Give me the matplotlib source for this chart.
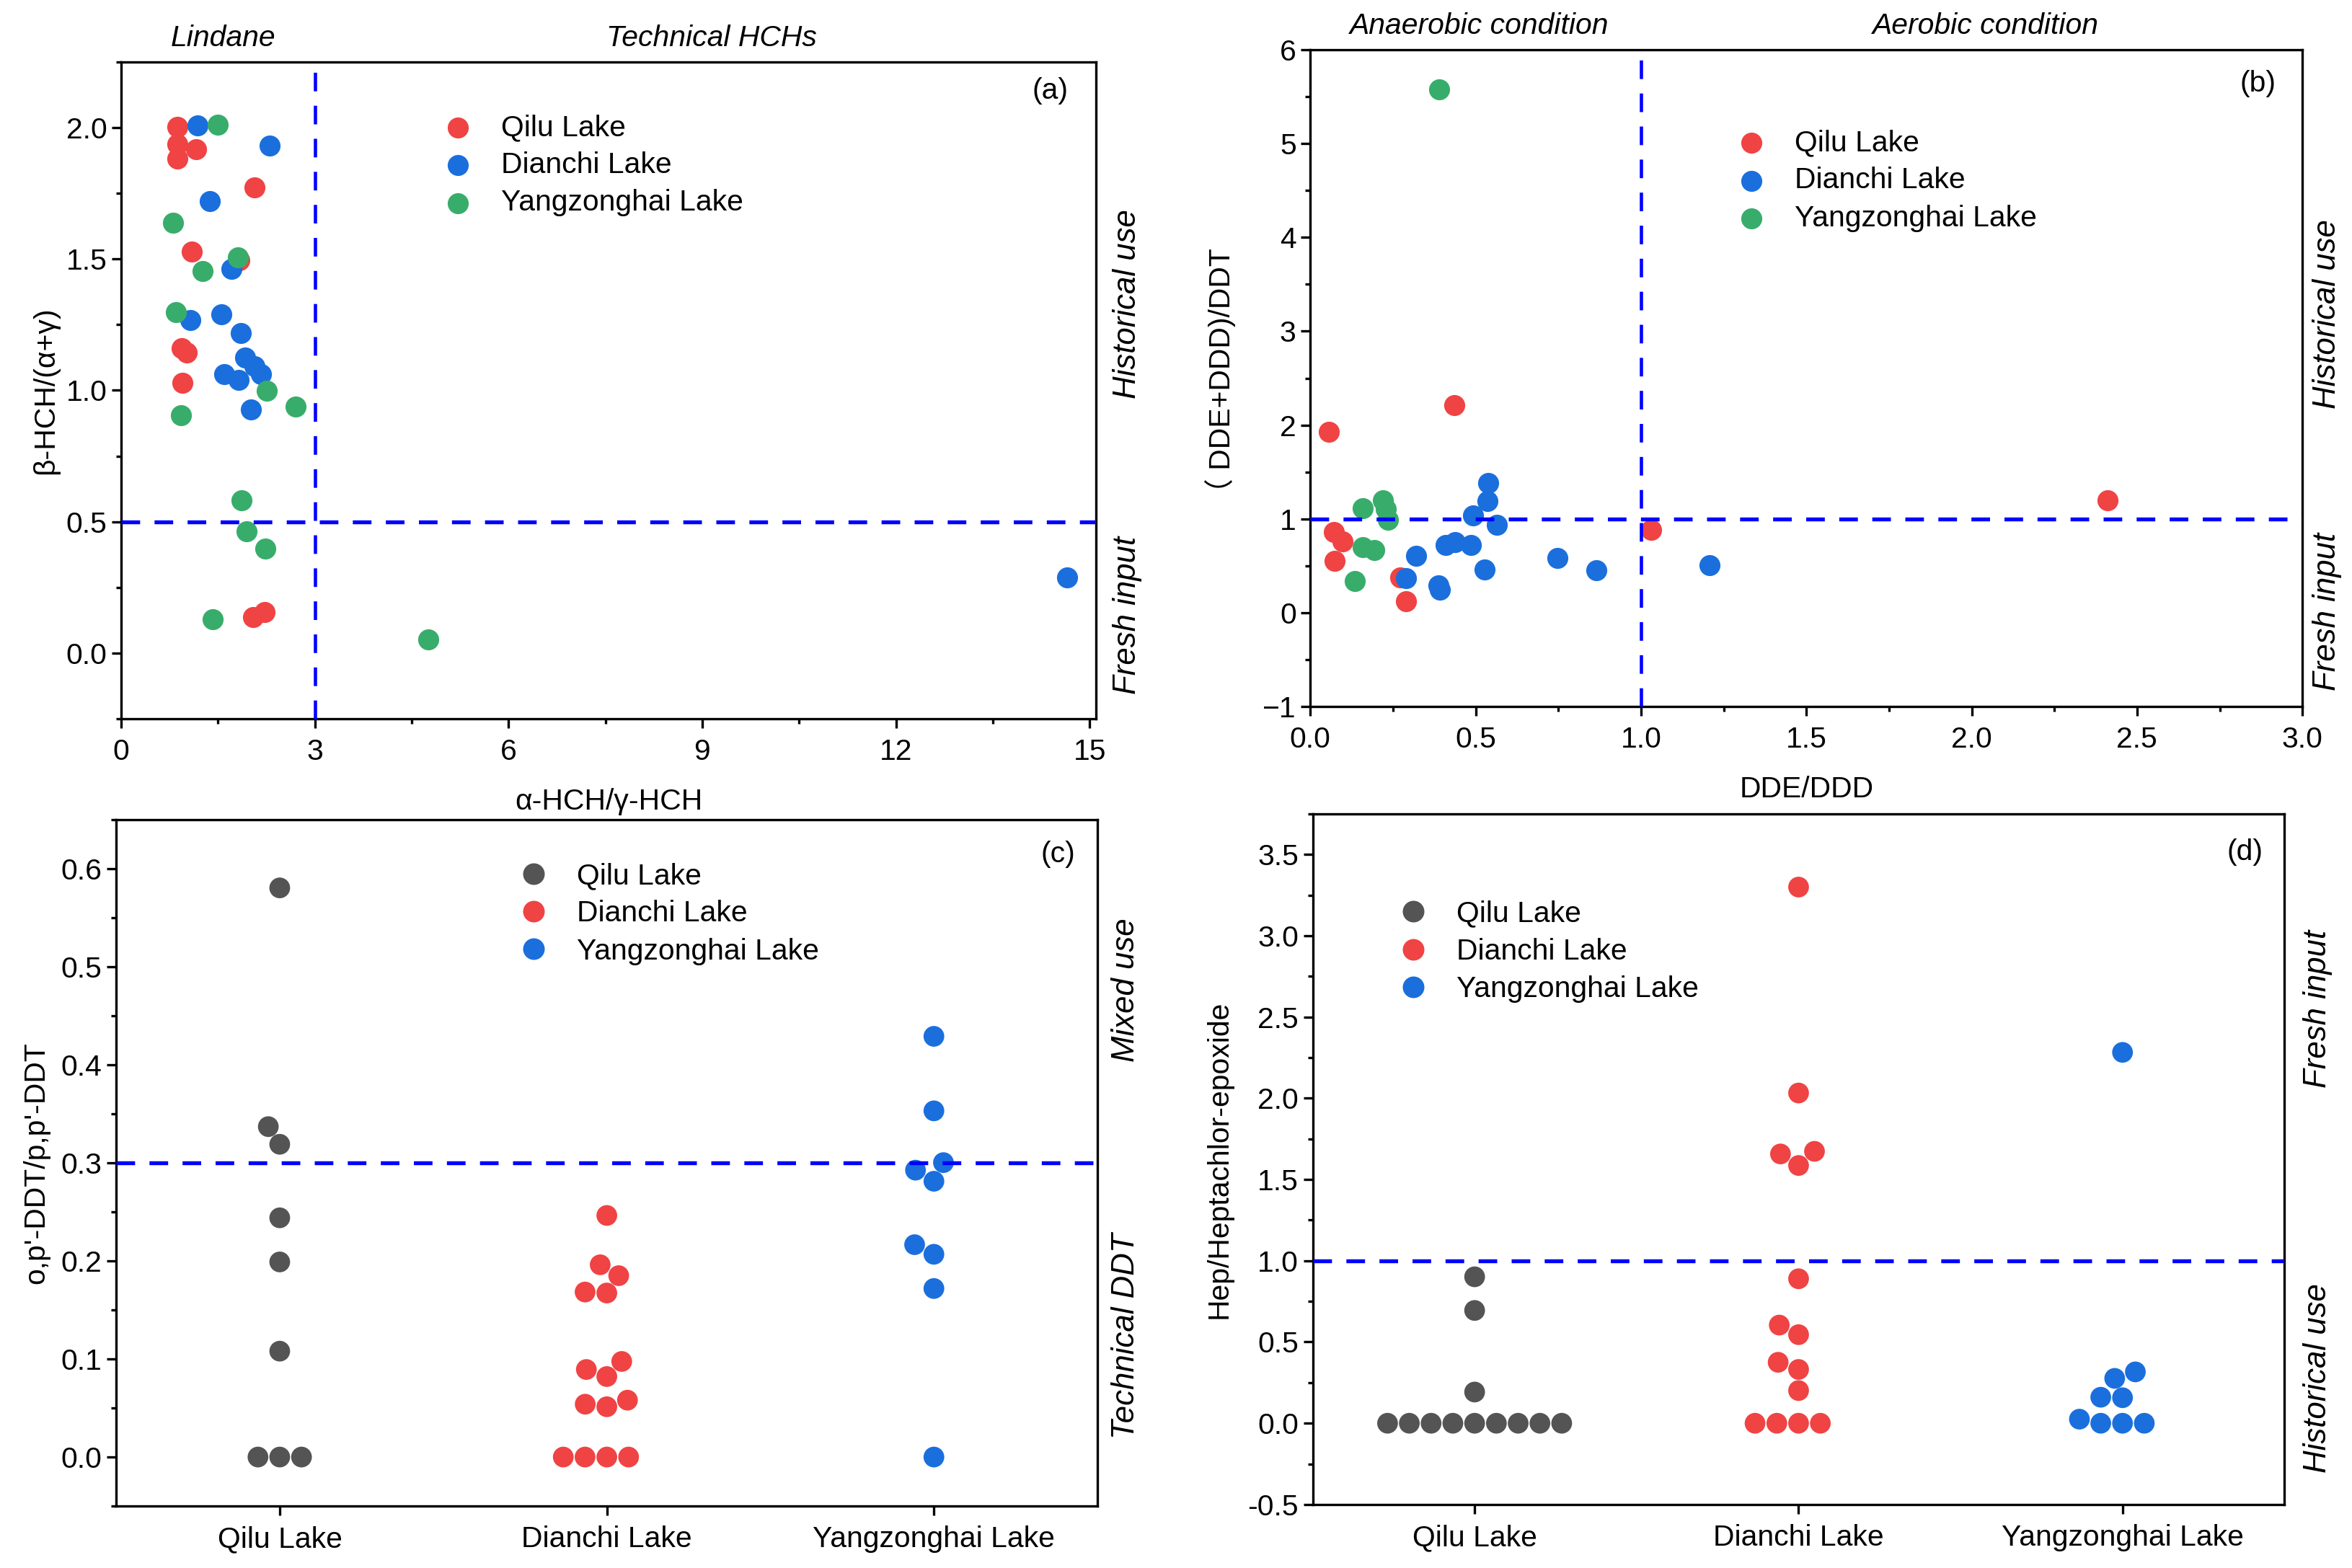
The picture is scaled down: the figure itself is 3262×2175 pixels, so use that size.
import numpy as np
import pandas as pd
import matplotlib
matplotlib.use("Agg")
import matplotlib.pyplot as plt
import seaborn as sns
from matplotlib.lines import Line2D
from matplotlib.ticker import MultipleLocator

# ---- data ----
# (a) alpha-HCH/gamma-HCH vs beta-HCH/(alpha+gamma)
qilu_a_x = [0.867, 0.874, 0.870, 1.157, 2.067, 1.090, 1.835, 0.937, 1.019, 0.948, 2.045, 2.227]
qilu_a_y = [2.004, 1.938, 1.883, 1.918, 1.772, 1.527, 1.495, 1.161, 1.143, 1.029, 0.138, 0.156]
dianchi_a_x = [1.182, 2.298, 1.372, 1.711, 1.067, 1.550, 1.851, 1.922, 2.071, 2.171, 1.599, 1.822, 2.012, 14.65]
dianchi_a_y = [2.007, 1.932, 1.721, 1.461, 1.268, 1.290, 1.219, 1.124, 1.093, 1.063, 1.063, 1.040, 0.926, 0.288]
yang_a_x = [1.502, 0.803, 1.814, 1.264, 0.844, 2.253, 2.699, 0.926, 1.866, 1.941, 2.235, 1.413, 4.762]
yang_a_y = [2.010, 1.638, 1.505, 1.453, 1.297, 0.998, 0.939, 0.906, 0.581, 0.464, 0.398, 0.130, 0.053]

# (b) DDE/DDD vs (DDE+DDD)/DDT
qilu_b_x = [0.057, 0.436, 0.071, 0.097, 0.074, 0.272, 0.290, 1.03, 2.41]
qilu_b_y = [1.929, 2.212, 0.858, 0.756, 0.549, 0.378, 0.120, 0.88, 1.20]
dianchi_b_x = [0.539, 0.535, 0.492, 0.564, 0.409, 0.438, 0.485, 0.319, 0.290, 0.388, 0.392, 0.528, 0.748, 0.865, 1.207]
dianchi_b_y = [1.385, 1.188, 1.040, 0.935, 0.718, 0.749, 0.723, 0.603, 0.365, 0.289, 0.243, 0.460, 0.580, 0.450, 0.506]
yang_b_x = [0.390, 0.159, 0.219, 0.229, 0.234, 0.159, 0.194, 0.135]
yang_b_y = [5.58, 1.116, 1.201, 1.105, 0.993, 0.697, 0.667, 0.334]

# (c) o,p'-DDT/p,p'-DDT per lake
lakes = ["Qilu Lake", "Dianchi Lake", "Yangzonghai Lake"]
qilu_c = [0, 0, 0, 0.108, 0.199, 0.244, 0.319, 0.337, 0.5805]
dianchi_c = [0, 0, 0, 0, 0.0513, 0.0539, 0.058, 0.0821, 0.0893, 0.0975,
             0.1673, 0.1683, 0.185, 0.1961, 0.2464]
yang_c = [0, 0.1719, 0.2068, 0.2166, 0.2813, 0.2926, 0.3003, 0.3531, 0.4291]

# (d) Hep/Heptachlor-epoxide per lake
qilu_d = [0, 0, 0, 0, 0, 0, 0, 0, 0, 0.192, 0.694, 0.901]
dianchi_d = [0, 0, 0, 0, 0.201, 0.331, 0.375, 0.545, 0.604, 0.889,
             1.586, 1.657, 1.673, 2.032, 3.299]
yang_d = [0, 0, 0, 0.025, 0.157, 0.160, 0.276, 0.316, 2.282]

# ---- style ----
plt.rcParams['font.family'] = ['Liberation Sans', 'Noto Sans CJK SC', 'DejaVu Sans']
plt.rcParams['font.size'] = 9.8
plt.rcParams['axes.linewidth'] = 0.8

red = '#F04344'
blue = '#1A6FDD'
green = '#38AD6B'
gray = '#545454'
line_blue = '#0000FF'
dot = 49
fs = 9.8
side_fs = 10.5


def dashed(ax, hv, val, lw):
    ls = (0, (6.2 / lw, 4.8 / lw))
    if hv == 'h':
        ax.axhline(val, color=line_blue, lw=lw, ls=ls, zorder=4)
    else:
        ax.axvline(val, color=line_blue, lw=lw, ls=ls, zorder=4)


def style_ax(ax):
    ax.tick_params(which='both', direction='out', width=0.8, labelsize=fs,
                   top=False, right=False)
    ax.tick_params(which='major', length=3.2)
    ax.tick_params(which='minor', length=1.6)
    ax.tick_params(axis='x', pad=3.3)
    ax.tick_params(axis='y', pad=1.5)


def make_legend(ax, handles, x, y):
    ax.legend(handles=handles, loc='upper left', bbox_to_anchor=(x, y),
              frameon=False, fontsize=fs, handlelength=1.0, handletextpad=0.97,
              labelspacing=0.35, borderpad=0, borderaxespad=0)


def side_text(ax, x, y, s):
    ax.text(x, y, s, transform=ax.transAxes, rotation=90, ha='center',
            va='center', style='italic', fontsize=side_fs)


def top_text(ax, x, s):
    ax.text(x, 1.036, s, transform=ax.get_xaxis_transform(), ha='center',
            va='center', style='italic', fontsize=fs)


fig = plt.figure(figsize=(3262 / 300, 2175 / 300), dpi=300)

# ---- (a) ----
ax = fig.add_axes([0.0515, 0.5416, 0.4145, 0.4189])
ha = [ax.scatter(qilu_a_x, qilu_a_y, s=dot, color=red, lw=0, label='Qilu Lake', zorder=3),
      ax.scatter(dianchi_a_x, dianchi_a_y, s=dot, color=blue, lw=0, label='Dianchi Lake', zorder=3),
      ax.scatter(yang_a_x, yang_a_y, s=dot, color=green, lw=0, label='Yangzonghai Lake', zorder=3)]
dashed(ax, 'h', 0.5, 1.3)
dashed(ax, 'v', 3, 1.1)
ax.set_xlim(0, 15.1)
ax.set_ylim(-0.25, 2.25)
ax.xaxis.set_major_locator(MultipleLocator(3))
ax.xaxis.set_minor_locator(MultipleLocator(1.5))
ax.yaxis.set_major_locator(MultipleLocator(0.5))
ax.yaxis.set_minor_locator(MultipleLocator(0.25))
ax.yaxis.set_major_formatter(lambda v, p: f"{v:.1f}")
style_ax(ax)
ax.set_xlabel("α-HCH/γ-HCH", fontsize=fs, labelpad=7.5)
ax.set_ylabel("β-HCH/(α+γ)", fontsize=fs, labelpad=2.2)
make_legend(ax, ha, 0.33, 0.921)
ax.text(0.953, 0.956, "(a)", transform=ax.transAxes, ha='center', va='center', fontsize=fs)
top_text(ax, 1.58, "Lindane")
top_text(ax, 9.15, "Technical HCHs")
side_text(ax, 1.032, 0.632, "Historical use")
side_text(ax, 1.032, 0.158, "Fresh input")

# ---- (b) ----
ax = fig.add_axes([0.5571, 0.5494, 0.4218, 0.4189])
hb = [ax.scatter(qilu_b_x, qilu_b_y, s=dot, color=red, lw=0, label='Qilu Lake', zorder=3),
      ax.scatter(dianchi_b_x, dianchi_b_y, s=dot, color=blue, lw=0, label='Dianchi Lake', zorder=3),
      ax.scatter(yang_b_x, yang_b_y, s=dot, color=green, lw=0, label='Yangzonghai Lake', zorder=3)]
dashed(ax, 'h', 1, 1.3)
dashed(ax, 'v', 1, 1.1)
ax.set_xlim(0, 3)
ax.set_ylim(-1, 6)
ax.xaxis.set_major_locator(MultipleLocator(0.5))
ax.xaxis.set_minor_locator(MultipleLocator(0.25))
ax.yaxis.set_major_locator(MultipleLocator(1))
ax.yaxis.set_minor_locator(MultipleLocator(0.5))
ax.xaxis.set_major_formatter(lambda v, p: f"{v:.1f}")
style_ax(ax)
ax.set_xlabel("DDE/DDD", fontsize=fs, labelpad=7.5)
ax.set_ylabel("（ DDE+DDD)/DDT", fontsize=fs, labelpad=9)
make_legend(ax, hb, 0.43, 0.879)
ax.text(0.955, 0.948, "(b)", transform=ax.transAxes, ha='center', va='center', fontsize=fs)
top_text(ax, 0.51, "Anaerobic condition")
top_text(ax, 2.04, "Aerobic condition")
side_text(ax, 1.025, 0.598, "Historical use")
side_text(ax, 1.025, 0.144, "Fresh input")


def swarm_panel(ax, groups, colors):
    df = pd.DataFrame({
        'lake': np.repeat(lakes, [len(g) for g in groups]),
        'value': np.concatenate(groups),
    })
    sns.swarmplot(data=df, x='lake', y='value', hue='lake', order=lakes, hue_order=lakes,
                  palette=dict(zip(lakes, colors)), size=6.9, linewidth=0, legend=False,
                  ax=ax, zorder=3)
    ax.set_xlabel('')
    ax.set_xlim(-0.5, 2.5)
    handles = [Line2D([], [], ls='none', marker='o', ms=7.2, mew=0, color=c, label=l)
               for c, l in zip(colors, lakes)]
    return handles


# ---- (c) ----
ax = fig.add_axes([0.0494, 0.0395, 0.4172, 0.4377])
ax.set_ylim(-0.05, 0.65)
hc = swarm_panel(ax, [qilu_c, dianchi_c, yang_c], [gray, red, blue])
ax.set_ylim(-0.05, 0.65)
dashed(ax, 'h', 0.3, 1.3)
ax.yaxis.set_major_locator(MultipleLocator(0.1))
ax.yaxis.set_minor_locator(MultipleLocator(0.05))
ax.yaxis.set_major_formatter(lambda v, p: f"{v:.1f}")
style_ax(ax)
ax.set_ylabel("o,p'-DDT/p,p'-DDT", fontsize=fs, labelpad=3.6)
make_legend(ax, hc, 0.41, 0.938)
ax.text(0.96, 0.95, "(c)", transform=ax.transAxes, ha='center', va='center', fontsize=fs)
side_text(ax, 1.029, 0.752, "Mixed use")
side_text(ax, 1.029, 0.248, "Technical DDT")

# ---- (d) ----
ax = fig.add_axes([0.5581, 0.0405, 0.4132, 0.4405])
ax.set_ylim(-0.5, 3.75)
hd = swarm_panel(ax, [qilu_d, dianchi_d, yang_d], [gray, red, blue])
ax.set_ylim(-0.5, 3.75)
dashed(ax, 'h', 1.0, 1.3)
ax.yaxis.set_major_locator(MultipleLocator(0.5))
ax.yaxis.set_minor_locator(MultipleLocator(0.25))
ax.yaxis.set_major_formatter(lambda v, p: f"{v:.1f}")
style_ax(ax)
ax.set_ylabel("Hep/Heptachlor-epoxide", fontsize=fs, labelpad=5)
make_legend(ax, hd, 0.088, 0.875)
ax.text(0.959, 0.944, "(d)", transform=ax.transAxes, ha='center', va='center', fontsize=fs)
side_text(ax, 1.034, 0.718, "Fresh input")
side_text(ax, 1.034, 0.183, "Historical use")

fig.savefig("out.png", dpi=300)
